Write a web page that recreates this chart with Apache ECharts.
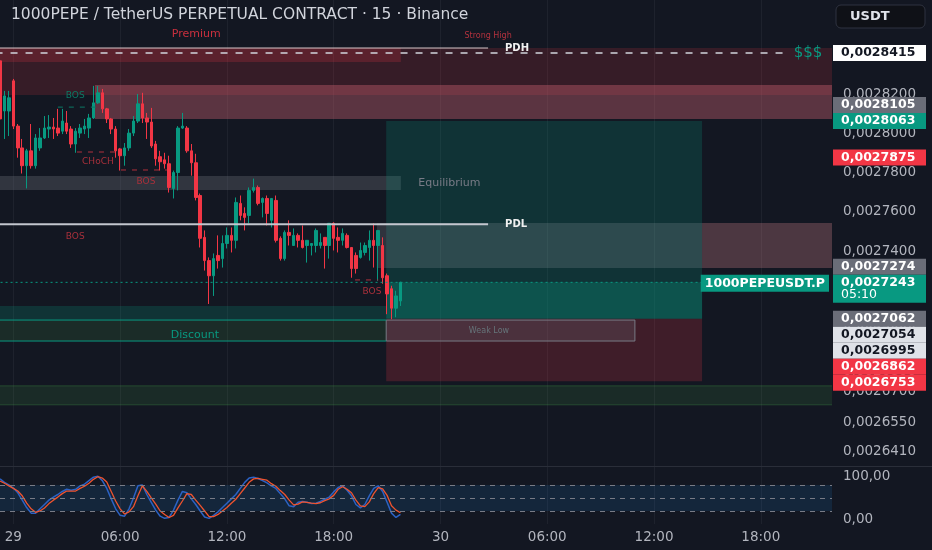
<!DOCTYPE html>
<html><head><meta charset="utf-8">
<script src="https://cdn.jsdelivr.net/npm/echarts@6/dist/echarts.min.js"></script>
<style>html,body{margin:0;padding:0;background:#131722;overflow:hidden}#c{width:932px;height:550px}</style>
</head><body><div id="c"></div>
<script>
const title = '1000PEPE / TetherUS PERPETUAL CONTRACT · 15 · Binance';
const symbol = '1000PEPEUSDT.P';
const quote = 'USDT';
const startDay = 28, startMinute = 23 * 60 + 15, barMinutes = 15, slotCount = 188;

// OHLC rows: [open, close, low, high]
const candles = [
[0.0028374,0.0028073,0.0028036,0.0028389],[0.0028114,0.0028192,0.0027970,0.0028218],[0.0028114,0.0028182,0.0027985,0.0028218],
[0.0028270,0.0028036,0.0028021,0.0028280],[0.0028036,0.0027924,0.0027874,0.0028047],[0.0027924,0.0027833,0.0027793,0.0027970],
[0.0027833,0.0027909,0.0027717,0.0027919],[0.0027909,0.0027833,0.0027818,0.0028047],[0.0027833,0.0027975,0.0027818,0.0027995],
[0.0027924,0.0027975,0.0027909,0.0028026],[0.0027975,0.0028026,0.0027970,0.0028088],[0.0028021,0.0028031,0.0027975,0.0028093],
[0.0028031,0.0028021,0.0027970,0.0028078],[0.0028026,0.0028000,0.0027985,0.0028125],[0.0028010,0.0028062,0.0027995,0.0028125],
[0.0028052,0.0028010,0.0027995,0.0028114],[0.0028021,0.0027944,0.0027924,0.0028036],[0.0027944,0.0028010,0.0027899,0.0028026],
[0.0028000,0.0028026,0.0027975,0.0028047],[0.0028021,0.0028036,0.0027995,0.0028073],[0.0028026,0.0028078,0.0027975,0.0028099],
[0.0028078,0.0028156,0.0028073,0.0028244],[0.0028156,0.0028208,0.0028151,0.0028244],[0.0028208,0.0028125,0.0028104,0.0028228],
[0.0028125,0.0028073,0.0028052,0.0028130],[0.0028073,0.0028021,0.0027995,0.0028078],[0.0028021,0.0027909,0.0027874,0.0028036],
[0.0027919,0.0027884,0.0027808,0.0027924],[0.0027884,0.0027924,0.0027833,0.0027949],[0.0027924,0.0028000,0.0027909,0.0028021],
[0.0028000,0.0028062,0.0027985,0.0028088],[0.0028062,0.0028151,0.0028052,0.0028202],[0.0028151,0.0028078,0.0028052,0.0028208],
[0.0028078,0.0028057,0.0027970,0.0028104],[0.0028057,0.0027934,0.0027924,0.0028130],[0.0027944,0.0027868,0.0027833,0.0027960],
[0.0027879,0.0027853,0.0027808,0.0027909],[0.0027863,0.0027843,0.0027818,0.0027899],[0.0027843,0.0027722,0.0027696,0.0027884],
[0.0027717,0.0027798,0.0027666,0.0027808],[0.0027798,0.0028026,0.0027707,0.0028036],[0.0028026,0.0028036,0.0028021,0.0028104],
[0.0028026,0.0027909,0.0027899,0.0028036],[0.0027909,0.0027848,0.0027782,0.0027944],[0.0027848,0.0027671,0.0027656,0.0027894],
[0.0027681,0.0027464,0.0027418,0.0027691],[0.0027469,0.0027352,0.0027302,0.0027504],[0.0027352,0.0027276,0.0027135,0.0027368],
[0.0027276,0.0027362,0.0027175,0.0027388],[0.0027378,0.0027352,0.0027312,0.0027479],[0.0027362,0.0027438,0.0027317,0.0027479],
[0.0027438,0.0027479,0.0027413,0.0027519],[0.0027479,0.0027454,0.0027393,0.0027519],[0.0027454,0.0027646,0.0027413,0.0027671],
[0.0027641,0.0027580,0.0027555,0.0027681],[0.0027590,0.0027570,0.0027504,0.0027621],[0.0027580,0.0027707,0.0027540,0.0027722],
[0.0027707,0.0027722,0.0027696,0.0027767],[0.0027722,0.0027641,0.0027631,0.0027732],[0.0027646,0.0027666,0.0027570,0.0027671],
[0.0027666,0.0027590,0.0027529,0.0027681],[0.0027555,0.0027666,0.0027519,0.0027666],[0.0027656,0.0027454,0.0027443,0.0027681],
[0.0027464,0.0027362,0.0027352,0.0027474],[0.0027362,0.0027494,0.0027352,0.0027504],[0.0027494,0.0027479,0.0027428,0.0027555],
[0.0027428,0.0027479,0.0027428,0.0027514],[0.0027479,0.0027454,0.0027418,0.0027489],[0.0027454,0.0027418,0.0027413,0.0027529],
[0.0027428,0.0027454,0.0027342,0.0027454],[0.0027428,0.0027438,0.0027378,0.0027438],[0.0027428,0.0027504,0.0027393,0.0027514],
[0.0027428,0.0027443,0.0027413,0.0027489],[0.0027469,0.0027428,0.0027312,0.0027469],[0.0027428,0.0027540,0.0027362,0.0027540],
[0.0027540,0.0027464,0.0027403,0.0027545],[0.0027469,0.0027454,0.0027393,0.0027519],[0.0027454,0.0027489,0.0027428,0.0027514],
[0.0027479,0.0027418,0.0027413,0.0027489],[0.0027418,0.0027312,0.0027266,0.0027418],[0.0027378,0.0027312,0.0027287,0.0027393],
[0.0027368,0.0027403,0.0027362,0.0027443],[0.0027393,0.0027428,0.0027378,0.0027443],[0.0027418,0.0027454,0.0027352,0.0027504],
[0.0027454,0.0027428,0.0027317,0.0027540],[0.0027428,0.0027504,0.0027251,0.0027504],[0.0027428,0.0027266,0.0027236,0.0027469],
[0.0027276,0.0027185,0.0027084,0.0027287],[0.0027211,0.0027114,0.0027059,0.0027226],[0.0027114,0.0027175,0.0027069,0.0027201],
[0.0027150,0.0027243,0.0027125,0.0027246]
];

const stochK = [94,86,80,73,62,45,28,15,15,25,35,45,52,58,65,70,68,70,78,82,90,98,100,90,72,48,25,10,8,25,50,78,80,58,40,22,8,3,5,22,45,65,62,48,35,20,6,3,10,18,28,38,48,58,72,86,96,98,95,90,85,78,72,60,48,32,30,40,42,40,37,38,42,47,52,64,74,78,68,55,35,27,35,55,72,78,65,40,15,5,12];
const stochD = [89,84,78,72,66,55,38,25,17,20,27,37,45,52,60,66,66,66,72,77,84,93,99,96,87,65,43,25,13,18,30,55,78,65,50,36,20,12,5,10,27,43,60,58,45,33,20,7,7,12,20,28,38,47,60,73,86,94,95,93,91,83,77,67,58,45,34,36,41,40,38,37,39,44,48,56,70,76,70,62,45,32,30,41,60,74,71,56,32,22,16];
const stochBands = [20, 50, 80];
const stochTicks = [0, 100];

const priceTicks = [0.00284, 0.00282, 0.0028, 0.00278, 0.00276, 0.00274, 0.00272, 0.0027, 0.00268, 0.00267, 0.002655, 0.002641];
const priceMarks = [0.0028415, 0.0028105, 0.0028063, 0.0027875, 0.0027274, 0.0027062, 0.0027054, 0.0026995, 0.0026862, 0.0026753];
const priceMarkKinds = ['level', 'line', 'target', 'alert', 'line', 'entry', 'level2', 'level2', 'alert', 'stop'];
const lastPrice = 0.0027243;
const countdown = '05:10';

// zones: [fromBar, toBar, upperPrice, lowerPrice]
const premiumZone  = [-1, 188, 0.0028441, 0.0028197];
const premiumCore  = [-1, 90.1, 0.0028441, 0.0028368];
const supplyZone   = [21.35, 188, 0.0028248, 0.0028073];
const equilibrium  = [-1, 90.1, 0.0027780, 0.0027709];
const targetZone   = [86.8, 157.8, 0.0028063, 0.0027062];
const openPnlZone  = [86.8, 157.8, 0.0027243, 0.0027062];
const stopZone     = [86.8, 157.8, 0.0027062, 0.0026753];
const obRedZone    = [157.8, 188, 0.0027542, 0.0027315];
const orderBlock   = [84.7, 188, 0.0027542, 0.0027315];
const discountTop  = [-1, 86.8, 0.0027125, 0.0027055];
const discountZone = [-1, 86.8, 0.0027055, 0.0026951];
const weakLowZone  = [86.8, 142.7, 0.0027055, 0.0026951];
const demandZone   = [-1, 188, 0.0026730, 0.0026637];

// levels: [fromBar, toBar, price]
const strongHigh  = [-1, 109.7, 0.0028441];
const pdhLevel    = [-1, 176.4, 0.0028415];
const pdlLevel    = [-1, 109.7, 0.0027535];
const bosUp       = [13.0, 21.8, 0.0028134];
const chochDown   = [17.3, 25.85, 0.0027903];
const bosDown1    = [27.2, 37.5, 0.0027811];
const bosDown2    = [79.8, 85.0, 0.0027255];
const discountHi  = [-1, 86.8, 0.0027055];
const discountLo  = [-1, 86.8, 0.0026951];
const lastLine    = [-1, 157.8, lastPrice];

// notes: [bar, price, text]
const notes = [
  [44.1, 0.0028514, 'Premium'], [109.7, 0.0028504, 'Strong High'], [116.2, 0.0028441, 'PDH'],
  [181.6, 0.0028415, '$$$'], [16.9, 0.0028192, 'BOS'], [22.0, 0.0027853, 'CHoCH'],
  [32.8, 0.0027750, 'BOS'], [94.0, 0.0027745, 'Equilibrium'], [116.0, 0.0027535, 'PDL'],
  [16.9, 0.0027471, 'BOS'], [83.6, 0.0027195, 'BOS'], [43.8, 0.0026981, 'Discount'],
  [109.9, 0.0027003, 'Weak Low']
];
const noteKinds = ['premium','strong','pd','liq','bull','bear','bear','eq','pd','bear','bear','disc','weak'];

// ---------- build ----------
const pad = n => (n < 10 ? '0' : '') + n;
const times = [];
for (let j = 0; j < slotCount; j++) {
  const t = startMinute + j * barMinutes;
  const d = startDay + Math.floor(t / 1440), m = t % 1440;
  times.push(d + ' ' + pad(Math.floor(m / 60)) + ':' + pad(m % 60));
}
const isMajor = idx => (startMinute + idx * barMinutes) % 360 === 0;
const FONT = '"DejaVu Sans"';

const zoneStyles = [
  [premiumZone, 'rgba(242,54,69,0.16)'], [premiumCore, 'rgba(242,54,69,0.2)'],
  [supplyZone, 'rgba(210,100,115,0.38)'], [equilibrium, 'rgba(120,123,134,0.3)'],
  [targetZone, 'rgba(8,153,129,0.22)'], [openPnlZone, 'rgba(8,153,129,0.32)'],
  [stopZone, 'rgba(242,54,69,0.2)'], [obRedZone, 'rgba(242,54,69,0.16)'],
  [orderBlock, 'rgba(178,181,190,0.18)'], [discountTop, 'rgba(8,153,129,0.22)'],
  [discountZone, 'rgba(76,175,80,0.14)'], [weakLowZone, 'rgba(120,123,134,0.22)', '#787b86'],
  [demandZone, 'rgba(76,175,80,0.13)', 'rgba(76,175,80,0.28)']
];
const levelStyles = [
  [strongHigh, '#d9c9cc', 1, null], [pdhLevel, '#d1d4dc', 1.5, [7, 8]], [pdlLevel, '#c3c6ce', 2, null],
  [bosUp, '#0b7a66', 1, [5, 6]], [chochDown, '#b0303c', 1, [5, 6]], [bosDown1, '#b0303c', 1, [5, 6]],
  [bosDown2, '#b0303c', 1, [5, 6]], [discountHi, '#089981', 1, null], [discountLo, '#089981', 1, null],
  [lastLine, '#089981', 1, [2, 3]]
];
const noteStyle = {
  premium: ['#c9303e', '11px', 'center'], strong: ['#b3323e', '8px', 'center'], pd: ['#f0f0f0', 'bold 10px', 'center'],
  liq: ['#089981', '15px', 'center'], bull: ['#0b7a66', '9px', 'center'], bear: ['#a8303b', '9px', 'center'],
  eq: ['#787b86', '11px', 'left'], disc: ['#089981', '11px', 'center'], weak: ['#66747a', '8px', 'center']
};

const chart = echarts.init(document.getElementById('c'));
const option = {
  backgroundColor: '#131722',
  animation: false,
  grid: [
    { left: 0, right: 100, top: 0, height: 466 },
    { left: 0, right: 100, top: 467, height: 57 }
  ],
  xAxis: [
    { type: 'category', gridIndex: 0, data: times, boundaryGap: false,
      axisLine: { show: false }, axisTick: { show: false }, axisLabel: { show: false },
      splitLine: { show: true, interval: isMajor, lineStyle: { color: '#1e222d' } } },
    { type: 'value', gridIndex: 0, min: 0, max: slotCount - 1, show: false },
    { type: 'category', gridIndex: 1, data: times, boundaryGap: false,
      axisLine: { show: false }, axisTick: { show: false },
      axisLabel: { interval: isMajor, color: '#b2b5be', fontSize: 13.5, fontFamily: 'DejaVu Sans', margin: 6,
        formatter: v => { const p = v.split(' '); return p[1] === '00:00' ? p[0] : p[1]; } },
      splitLine: { show: true, interval: isMajor, lineStyle: { color: '#1e222d' } } }
  ],
  yAxis: [
    { type: 'log', gridIndex: 0, min: 0.00263394, max: 0.0028693, show: false },
    { type: 'value', gridIndex: 1, min: -10, max: 121.4, position: 'right',
      axisLine: { show: false }, axisTick: { show: false }, splitLine: { show: false },
      axisLabel: { customValues: stochTicks, color: '#b2b5be', fontSize: 13.5, fontFamily: 'DejaVu Sans', margin: 11, align: 'left',
        formatter: v => v.toFixed(2).replace('.', ',') } }
  ],
  series: [
    { type: 'custom', xAxisIndex: 1, yAxisIndex: 0, clip: true, z: 1, silent: true,
      data: zoneStyles.map(z => [z[0][0], z[0][2]]),
      encode: { x: 0, y: 1 },
      renderItem: (params, api) => {
        const s = zoneStyles[params.dataIndex], z = s[0];
        const a = api.coord([z[0], z[2]]), b = api.coord([z[1], z[3]]);
        return { type: 'rect', shape: { x: a[0], y: a[1], width: b[0] - a[0], height: b[1] - a[1] },
          style: { fill: s[1], stroke: s[2] || null, lineWidth: s[2] ? 1 : 0 } };
      } },
    { type: 'candlestick', xAxisIndex: 0, yAxisIndex: 0, data: candles, barWidth: 3, z: 3,
      itemStyle: { color: '#089981', color0: '#f23645', borderColor: '#089981', borderColor0: '#f23645', borderWidth: 1 },
      markLine: { silent: true, symbol: 'none', label: { show: false }, z: 0,
        lineStyle: { color: '#1e222d', type: 'solid', width: 1 },
        data: priceTicks.map(v => ({ yAxis: v })) } },
    { type: 'custom', xAxisIndex: 1, yAxisIndex: 0, clip: true, z: 4, silent: true,
      data: levelStyles.map(l => [l[0][0], l[0][2]]),
      encode: { x: 0, y: 1 },
      renderItem: (params, api) => {
        const s = levelStyles[params.dataIndex], l = s[0];
        const a = api.coord([l[0], l[2]]), b = api.coord([l[1], l[2]]);
        return { type: 'line', shape: { x1: a[0], y1: a[1], x2: b[0], y2: b[1] },
          style: { stroke: s[1], lineWidth: s[2], lineDash: s[3] || null } };
      } },
    { type: 'custom', xAxisIndex: 1, yAxisIndex: 0, clip: false, z: 5, silent: true,
      data: notes.map(n => [n[0], n[1]]),
      encode: { x: 0, y: 1 },
      renderItem: (params, api) => {
        const n = notes[params.dataIndex], st = noteStyle[noteKinds[params.dataIndex]];
        const p = api.coord([n[0], n[1]]);
        return { type: 'text', x: p[0], y: p[1],
          style: { text: n[2], fill: st[0], font: st[1] + ' ' + FONT, align: st[2], verticalAlign: 'middle' } };
      } },
    { type: 'line', xAxisIndex: 2, yAxisIndex: 1, data: stochK, showSymbol: false, z: 3,
      lineStyle: { color: '#2c62c4', width: 1.5 },
      markArea: { silent: true, itemStyle: { color: 'rgba(33,150,243,0.12)' },
        data: [[{ yAxis: stochBands[0] }, { yAxis: stochBands[2] }]] },
      markLine: { silent: true, symbol: 'none', label: { show: false },
        lineStyle: { color: '#787b86', type: [5, 5], width: 1 },
        data: stochBands.map(v => ({ yAxis: v })) } },
    { type: 'line', xAxisIndex: 2, yAxisIndex: 1, data: stochD, showSymbol: false, z: 4,
      lineStyle: { color: '#f0532e', width: 1.3 } }
  ]
};
chart.setOption(option);

// ---------- price scale labels and badges ----------
const fmt = v => v.toFixed(7).replace('.', ',');
const py = v => chart.convertToPixel({ yAxisIndex: 0 }, v);
const badgeColors = {
  level: ['#ffffff', '#131722'], line: ['#6a6d78', '#ffffff'], target: ['#089981', '#ffffff'],
  alert: ['#f23645', '#ffffff'], entry: ['#6a6d78', '#ffffff'], level2: ['#dfe2e8', '#131722'], stop: ['#f23645', '#ffffff']
};
const g = [];
g.push({ type: 'rect', shape: { x: 0, y: 466, width: 932, height: 1 }, style: { fill: '#2a2e39' }, z: 50 });
g.push({ type: 'text', x: 11, y: 15, style: { text: title, fill: '#d1d4dc', font: '15.5px ' + FONT, verticalAlign: 'middle' }, z: 60 });
g.push({ type: 'rect', shape: { x: 836, y: 5, width: 89, height: 23, r: 5 }, style: { fill: '#0f1117', stroke: '#2f3340', lineWidth: 1 }, z: 60 });
g.push({ type: 'text', x: 850, y: 16.5, style: { text: quote, fill: '#e0e3eb', font: 'bold 13px ' + FONT, verticalAlign: 'middle' }, z: 61 });
priceTicks.forEach(v => g.push({ type: 'text', x: 843, y: py(v),
  style: { text: fmt(v), fill: '#b2b5be', font: '13.5px ' + FONT, verticalAlign: 'middle' }, z: 70 }));

const cy = py(lastPrice), curTop = cy - 7.5, curBot = cy + 20.5;
const marks = priceMarks.map((v, i) => ({ v, kind: priceMarkKinds[i], y: py(v) }));
const above = marks.filter(m => m.y < cy).sort((a, b) => b.y - a.y);
let lim = curTop;
above.forEach(m => { m.y = Math.min(m.y, lim - 8); lim = m.y - 8; });
const below = marks.filter(m => m.y >= cy).sort((a, b) => a.y - b.y);
lim = curBot;
below.forEach(m => { m.y = Math.max(m.y, lim + 8); lim = m.y + 8; });
marks.forEach(m => {
  const c = badgeColors[m.kind];
  g.push({ type: 'rect', shape: { x: 833, y: m.y - 8, width: 93, height: 16 }, style: { fill: c[0] }, z: 80 });
  g.push({ type: 'text', x: 841, y: m.y, style: { text: fmt(m.v), fill: c[1], font: 'bold 12.5px ' + FONT, verticalAlign: 'middle' }, z: 81 });
});
g.push({ type: 'rect', shape: { x: 833, y: curTop, width: 93, height: curBot - curTop }, style: { fill: '#089981' }, z: 80 });
g.push({ type: 'text', x: 841, y: cy, style: { text: fmt(lastPrice), fill: '#ffffff', font: 'bold 12.5px ' + FONT, verticalAlign: 'middle' }, z: 81 });
g.push({ type: 'text', x: 841, y: cy + 12.5, style: { text: countdown, fill: '#ffffff', font: '12.5px ' + FONT, verticalAlign: 'middle' }, z: 81 });
g.push({ type: 'text', x: 829, y: cy + 1, style: { text: symbol, fill: '#ffffff', font: 'bold 12.5px ' + FONT, align: 'right', verticalAlign: 'middle',
  backgroundColor: '#089981', padding: [2, 4, 2, 4] }, z: 81 });
chart.setOption({ graphic: g });
</script></body></html>
